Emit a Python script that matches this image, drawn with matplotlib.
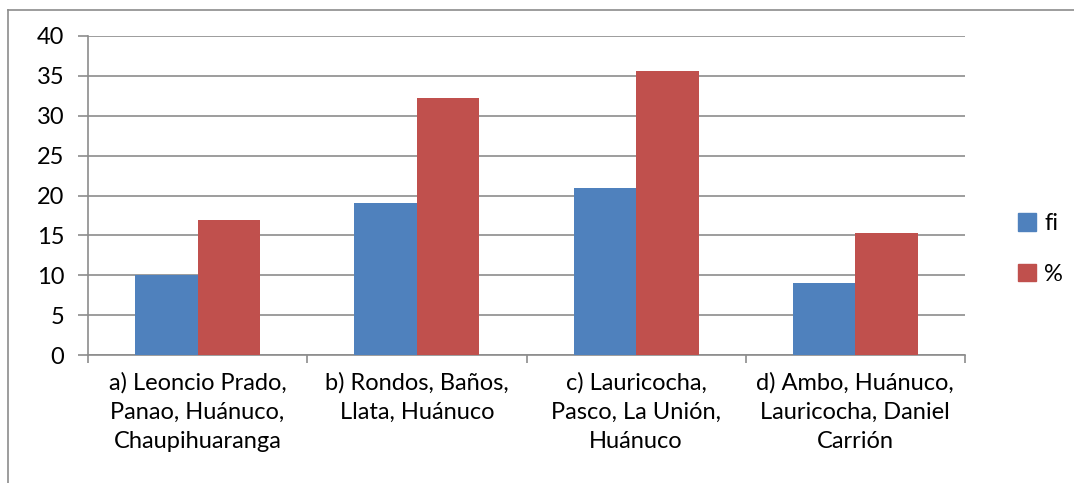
import numpy as np
import matplotlib.pyplot as plt
from matplotlib.lines import Line2D
from matplotlib.patches import Patch

categories = ["a) Leoncio Prado,\nPanao, Huánuco,\nChaupihuaranga",
              "b) Rondos, Baños,\nLlata, Huánuco",
              "c) Lauricocha,\nPasco, La Unión,\nHuánuco",
              "d) Ambo, Huánuco,\nLauricocha, Daniel\nCarrión"]
fi = [10, 19, 21, 9]
pct = [16.95, 32.20, 35.59, 15.25]
yticks = [0, 5, 10, 15, 20, 25, 30, 35, 40]

plt.rcParams['font.family'] = ['Lato', 'DejaVu Sans']

W, H = 1074, 483
fig = plt.figure(figsize=(W / 100, H / 100), dpi=100)
ax = fig.add_axes([88 / W, 1 - 355 / H, (965 - 88) / W, (355 - 36) / H])

x = np.arange(len(categories))
bw = 0.285
ax.bar(x - bw / 2, fi, bw, color='#4f81bd', zorder=3)
ax.bar(x + bw / 2, pct, bw, color='#c0504d', zorder=3)

ax.set_xlim(-0.5, len(categories) - 0.5)
ax.set_ylim(0, 40)
ax.set_yticks(yticks)
ax.yaxis.grid(True, color='#8c8c8c', linewidth=1.2, zorder=0)
ax.set_xticks(np.arange(len(categories) + 1) - 0.5)
ax.set_xticklabels([])
ax.tick_params(axis='x', length=6, color='#8c8c8c', width=1.2)
ax.tick_params(axis='y', length=7, color='#8c8c8c', width=1.2, labelsize=17, pad=10)
for i, c in enumerate(categories):
    ax.text(i, -2.1, c, ha='center', va='top', fontsize=17, linespacing=1.48)

for s in ['top', 'right']:
    ax.spines[s].set_visible(False)
for s in ['left', 'bottom']:
    ax.spines[s].set_color('#8c8c8c')
    ax.spines[s].set_linewidth(1.2)

handles = [Patch(color='#4f81bd', label='fi'), Patch(color='#c0504d', label='%')]
fig.legend(handles=handles, loc='center left', bbox_to_anchor=(997 / W, 1 - 249 / H),
           frameon=False, fontsize=17, handlelength=0.75, handleheight=0.75,
           handletextpad=0.35, labelspacing=1.25)

# outer chart border (left and top visible)
fig.add_artist(Line2D([8 / W, 8 / W], [0, 1 - 10 / H], color='#8c8c8c', lw=1.2))
fig.add_artist(Line2D([8 / W, 1], [1 - 10 / H, 1 - 10 / H], color='#8c8c8c', lw=1.2))

fig.savefig('out.png', dpi=100)
